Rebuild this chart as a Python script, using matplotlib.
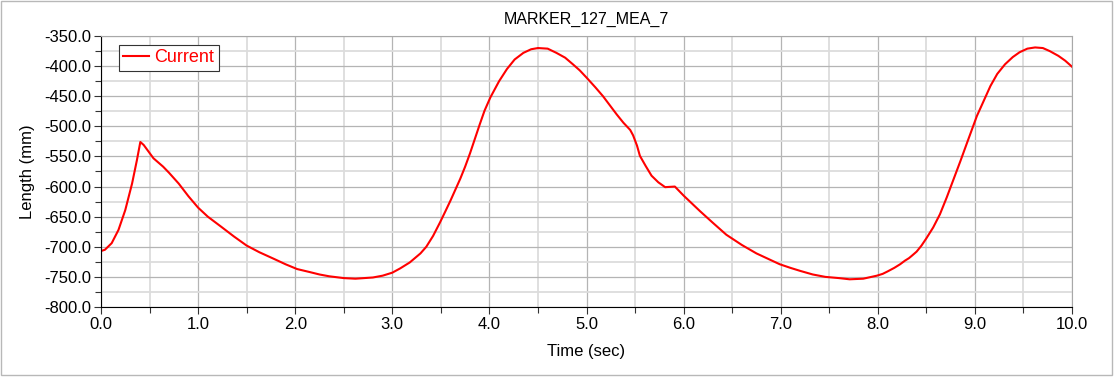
import matplotlib
matplotlib.use("Agg")
import matplotlib.pyplot as plt
from matplotlib.ticker import MultipleLocator, FormatStrFormatter
from matplotlib.patches import Rectangle

plt.rcParams['font.family'] = ['Liberation Sans', 'DejaVu Sans']
plt.rcParams['axes.unicode_minus'] = False

# values
time_s = [0.0, 0.04, 0.11, 0.18, 0.25, 0.32, 0.37, 0.405, 0.44, 0.54, 0.64, 0.70, 0.80, 0.90,
          1.0, 1.10, 1.24, 1.37, 1.5, 1.63, 1.78, 1.90, 2.02, 2.15, 2.25, 2.35, 2.5, 2.62,
          2.8, 2.9, 3.0, 3.08, 3.18, 3.29, 3.35, 3.42, 3.49, 3.55, 3.6, 3.65, 3.70, 3.75,
          3.80, 3.85, 3.90, 3.95, 4.01, 4.05, 4.1, 4.18, 4.26, 4.35, 4.43, 4.50,
          4.6, 4.69, 4.78, 4.86, 4.93, 5.0, 5.09, 5.17, 5.24, 5.31, 5.38, 5.45, 5.48,
          5.52, 5.55, 5.61, 5.67, 5.74, 5.81, 5.91, 6.0, 6.17, 6.3, 6.44, 6.6, 6.75,
          6.87, 6.99, 7.1, 7.2, 7.33, 7.46, 7.6, 7.71, 7.85, 7.99, 8.05, 8.1, 8.17,
          8.23, 8.28, 8.32, 8.35, 8.40, 8.45, 8.50, 8.57, 8.64, 8.71, 8.78, 8.85, 8.92,
          9.02, 9.09, 9.16, 9.23, 9.31, 9.39, 9.46, 9.54, 9.62, 9.70, 9.77, 9.86, 9.93, 10.0]
length_mm = [-707, -705, -694, -672, -639, -595, -556, -526, -531, -553, -567, -577, -595, -616,
             -635, -650, -667, -683, -698, -709, -720, -729, -737, -742, -746, -749, -752, -753,
             -751, -748, -743, -736, -726, -711, -700, -682, -660, -640, -623, -605, -587, -567,
             -545, -521, -497, -474, -452, -440, -425, -405, -389, -378, -372, -370,
             -371, -378, -386, -397, -407, -419, -435, -450, -465, -480, -494, -506, -515,
             -532, -549, -566, -582, -593, -601, -600, -615, -641, -660, -680, -697, -711,
             -720, -729, -735, -740, -746, -750, -752, -754, -753, -748, -745, -741, -735,
             -729, -723, -719, -715, -708, -698, -686, -668, -646, -618, -588, -558, -527,
             -483, -458, -433, -413, -397, -385, -377, -371, -369, -370, -375, -383, -391, -401]

title = "MARKER_127_MEA_7"
x_label = "Time (sec)"
y_label = "Length (mm)"
series_name = "Current"

fig = plt.figure(figsize=(11.17, 3.79), dpi=100)
ax = fig.add_axes([101 / 1117, 1 - 307 / 379, 971 / 1117, 271 / 379])

# light gray frame round the whole picture
fig.patches.append(Rectangle((0.5 / 1117, 1 - 374.5 / 379), 1111 / 1117, 374 / 379,
                             transform=fig.transFigure, fill=False,
                             edgecolor='#b8b8b8', linewidth=1.0))

ax.plot(time_s, length_mm, color='red', linewidth=1.5, label=series_name)

ax.set_xlim(0, 10)
ax.set_ylim(-800, -350)
ax.xaxis.set_major_locator(MultipleLocator(1.0))
ax.xaxis.set_minor_locator(MultipleLocator(0.5))
ax.yaxis.set_major_locator(MultipleLocator(50))
ax.yaxis.set_minor_locator(MultipleLocator(25))
ax.xaxis.set_major_formatter(FormatStrFormatter('%.1f'))
ax.yaxis.set_major_formatter(FormatStrFormatter('%.1f'))

ax.grid(which='minor', color='#dcdcdc', linewidth=1.3)
ax.grid(which='major', color='#b4b4b4', linewidth=0.9)
ax.set_axisbelow(True)

ax.tick_params(which='major', length=5, width=0.8, color='#333333', labelsize=12, pad=2)
ax.tick_params(which='minor', length=4, width=0.8, color='#333333')
for side in ('top', 'right'):
    ax.spines[side].set_color('#a8a8a8')
for side in ('left', 'bottom'):
    ax.spines[side].set_color('black')

ax.set_title(title, fontsize=11.5, pad=9)
ax.set_xlabel(x_label, fontsize=12, labelpad=9)
ax.set_ylabel(y_label, fontsize=12, labelpad=7)

leg = ax.legend(loc='upper left', bbox_to_anchor=(0.0185, 0.967), fontsize=13,
                handlelength=1.4, handletextpad=0.3, borderpad=0.25,
                borderaxespad=0, fancybox=False, framealpha=1)
leg.get_frame().set_edgecolor('#333333')
leg.get_frame().set_linewidth(0.8)
for txt in leg.get_texts():
    txt.set_color('red')

fig.savefig("out.png", dpi=100)
